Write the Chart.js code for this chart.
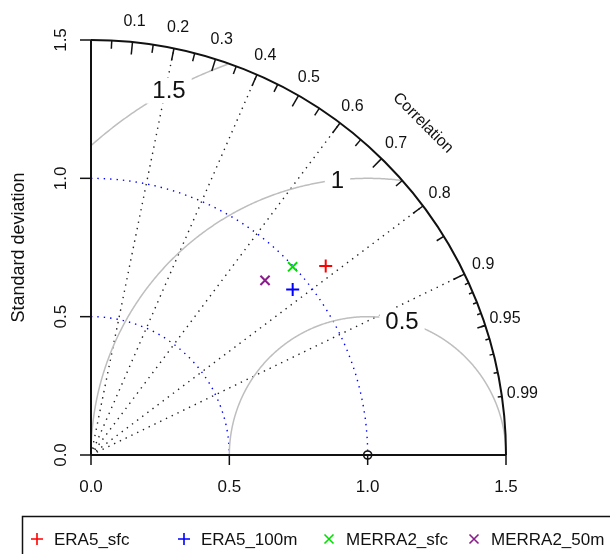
<!DOCTYPE html>
<html>
<head>
<meta charset="utf-8">
<script src="https://cdn.jsdelivr.net/npm/chart.js@4"></script>
<style>
  html, body { margin: 0; padding: 0; background: #fff; }
  #wrap { width: 610px; height: 554px; }
</style>
</head>
<body>
<div id="wrap"><canvas id="taylor" width="610" height="554"></canvas></div>
<script>
// data
const models = ['ERA5_sfc', 'ERA5_100m', 'MERRA2_sfc', 'MERRA2_50m'];
const stdDev = [1.089, 0.943, 0.997, 0.891];
const correlation = [0.779, 0.773, 0.731, 0.706];
const colors = ['#ff0000', '#0000ff', '#00e000', '#8b1c8b'];
const markers = ['cross', 'cross', 'crossRot', 'crossRot'];
const refStdDev = 1.0;

// axes / grid
const maxSd = 1.5;
const sdTicks = [0.0, 0.5, 1.0, 1.5];
const corrLabels = [0.1, 0.2, 0.3, 0.4, 0.5, 0.6, 0.7, 0.8, 0.9, 0.95, 0.99];
const corrLines = [0.2, 0.4, 0.6, 0.8, 0.9];
const rmsLevels = [0.5, 1, 1.5];
const sdArcs = [0.5, 1.0];

const FONT = '"Liberation Sans", Arial, Helvetica, sans-serif';

function toXY(sd, r) {
  return { x: sd * r, y: sd * Math.sqrt(1 - r * r) };
}

const taylorPlugin = {
  id: 'taylor',
  beforeDatasetsDraw(chart) {
    const ctx = chart.ctx;
    const sx = chart.scales.x, sy = chart.scales.y;
    const px = v => sx.getPixelForValue(v);
    const py = v => sy.getPixelForValue(v);
    const unit = px(1) - px(0);
    const ox = px(0), oy = py(0);

    ctx.save();

    // correlation rays
    ctx.strokeStyle = '#222';
    ctx.lineWidth = 1.4;
    ctx.setLineDash([1.4, 5]);
    corrLines.forEach(c => {
      const p = toXY(maxSd, c);
      ctx.beginPath();
      ctx.moveTo(ox, oy);
      ctx.lineTo(px(p.x), py(p.y));
      ctx.stroke();
    });

    // sd arcs (blue dotted)
    ctx.strokeStyle = '#0000ff';
    sdArcs.forEach(r => {
      ctx.beginPath();
      ctx.arc(ox, oy, r * unit, -Math.PI / 2, 0);
      ctx.stroke();
    });
    ctx.setLineDash([]);

    // centred RMS arcs around the reference point
    ctx.strokeStyle = '#bebebe';
    ctx.lineWidth = 1.5;
    rmsLevels.forEach(r => {
      ctx.beginPath();
      let open = false;
      for (let t = 0; t <= Math.PI + 1e-9; t += 0.005) {
        const x = refStdDev + r * Math.cos(t), y = r * Math.sin(t);
        if (x < 0 || x * x + y * y > maxSd * maxSd) { open = false; continue; }
        if (!open) { ctx.moveTo(px(x), py(y)); open = true; }
        else ctx.lineTo(px(x), py(y));
      }
      ctx.stroke();
    });

    // RMS labels in white boxes (plotrix style placement)
    ctx.font = '24px ' + FONT;
    ctx.textAlign = 'center';
    ctx.textBaseline = 'middle';
    rmsLevels.forEach((r, i) => {
      const n = rmsLevels.length;
      const idx = Math.floor(45 + (70 - 45) * i / (n - 1));
      const t = (idx - 1) * 0.03;
      const x = refStdDev + r * Math.cos(t), y = r * Math.sin(t);
      if (x <= 0) return;
      const w = ctx.measureText(String(r)).width + 12;
      ctx.fillStyle = '#fff';
      ctx.fillRect(px(x) - w / 2, py(y) - 13, w, 26);
      ctx.fillStyle = '#111';
      ctx.fillText(String(r), px(x), py(y) + 1);
    });

    // outer arc
    ctx.strokeStyle = '#111';
    ctx.lineWidth = 2;
    ctx.beginPath();
    ctx.arc(ox, oy, maxSd * unit, -Math.PI / 2, 0);
    ctx.stroke();

    // correlation ticks
    ctx.lineWidth = 1.5;
    const tick = (c, frac) => {
      const a = Math.acos(c);
      ctx.beginPath();
      ctx.moveTo(px(Math.cos(a) * maxSd), py(Math.sin(a) * maxSd));
      ctx.lineTo(px(Math.cos(a) * maxSd * frac), py(Math.sin(a) * maxSd * frac));
      ctx.stroke();
    };
    for (let k = 1; k <= 9; k++) tick(k / 10, 0.97);
    for (let k = 0; k <= 9; k++) tick(0.05 + k / 10, 0.98);
    for (let k = 1; k <= 9; k++) tick(0.9 + k / 100, 0.99);

    // correlation labels
    ctx.fillStyle = '#111';
    ctx.font = '16px ' + FONT;
    ctx.textAlign = 'center';
    ctx.textBaseline = 'middle';
    corrLabels.forEach(c => {
      const a = Math.acos(c);
      ctx.fillText(String(c), px(Math.cos(a) * maxSd * 1.05), py(Math.sin(a) * maxSd * 1.05));
    });
    ctx.save();
    ctx.translate(px(maxSd * 0.8), py(maxSd * 0.8));
    ctx.rotate(Math.PI / 4);
    ctx.fillText('Correlation', 0, 0);
    ctx.restore();

    // x axis
    ctx.font = '17px ' + FONT;
    ctx.strokeStyle = '#111';
    ctx.lineWidth = 2;
    ctx.beginPath();
    ctx.moveTo(px(0), oy);
    ctx.lineTo(px(maxSd), oy);
    ctx.stroke();
    ctx.lineWidth = 1.5;
    sdTicks.forEach(v => {
      ctx.beginPath();
      ctx.moveTo(px(v), oy);
      ctx.lineTo(px(v), oy + 10);
      ctx.stroke();
      ctx.fillText(v.toFixed(1), px(v), oy + 32);
    });

    // y axis
    ctx.lineWidth = 2;
    ctx.beginPath();
    ctx.moveTo(ox, py(0));
    ctx.lineTo(ox, py(maxSd));
    ctx.stroke();
    ctx.lineWidth = 1.5;
    sdTicks.forEach(v => {
      ctx.beginPath();
      ctx.moveTo(ox, py(v));
      ctx.lineTo(ox - 11, py(v));
      ctx.stroke();
      ctx.save();
      ctx.translate(ox - 30, py(v));
      ctx.rotate(-Math.PI / 2);
      ctx.fillText(v.toFixed(1), 0, 0);
      ctx.restore();
    });
    ctx.save();
    ctx.font = '18px ' + FONT;
    ctx.translate(19, (py(0) + py(maxSd)) / 2);
    ctx.rotate(-Math.PI / 2);
    ctx.fillText('Standard deviation', 0, 0);
    ctx.restore();

    ctx.restore();
  },
  afterDraw(chart) {
    const ctx = chart.ctx;
    ctx.save();
    // legend box (runs off the right/bottom edge like the original)
    ctx.strokeStyle = '#111';
    ctx.lineWidth = 1.5;
    ctx.strokeRect(22.5, 516.5, 640, 60);
    ctx.font = '17px ' + FONT;
    ctx.textAlign = 'left';
    ctx.textBaseline = 'middle';
    const ly = 539;
    const symX = [37, 184, 329, 474];
    models.forEach((m, i) => {
      const cx = symX[i];
      ctx.strokeStyle = colors[i];
      ctx.lineWidth = 1.6;
      ctx.beginPath();
      if (markers[i] === 'cross') {
        ctx.moveTo(cx - 6, ly); ctx.lineTo(cx + 6, ly);
        ctx.moveTo(cx, ly - 6); ctx.lineTo(cx, ly + 6);
      } else {
        ctx.moveTo(cx - 4.5, ly - 4.5); ctx.lineTo(cx + 4.5, ly + 4.5);
        ctx.moveTo(cx - 4.5, ly + 4.5); ctx.lineTo(cx + 4.5, ly - 4.5);
      }
      ctx.stroke();
      ctx.fillStyle = '#111';
      ctx.fillText(m, cx + 17, ly + 1);
    });
    ctx.restore();
  }
};

const datasets = models.map((m, i) => ({
  label: m,
  data: [toXY(stdDev[i], correlation[i])],
  pointStyle: markers[i],
  pointRadius: 6.5,
  pointBorderWidth: 2,
  borderColor: colors[i],
  backgroundColor: colors[i],
  showLine: false
}));
datasets.push({
  label: 'reference',
  data: [{ x: refStdDev, y: 0 }],
  pointStyle: 'circle',
  pointRadius: 4,
  pointBorderWidth: 1.6,
  borderColor: '#111',
  backgroundColor: 'rgba(0,0,0,0)',
  showLine: false
});

const chart = new Chart(document.getElementById('taylor').getContext('2d'), {
  type: 'scatter',
  data: { datasets: datasets },
  options: {
    responsive: false,
    animation: false,
    devicePixelRatio: 1,
    events: [],
    clip: false,
    layout: { padding: { left: 91, right: 104, top: 40, bottom: 99 } },
    scales: {
      x: { type: 'linear', min: 0, max: maxSd, display: false },
      y: { type: 'linear', min: 0, max: maxSd, display: false }
    },
    plugins: {
      legend: { display: false },
      tooltip: { enabled: false }
    }
  },
  plugins: [taylorPlugin]
});
</script>
</body>
</html>
